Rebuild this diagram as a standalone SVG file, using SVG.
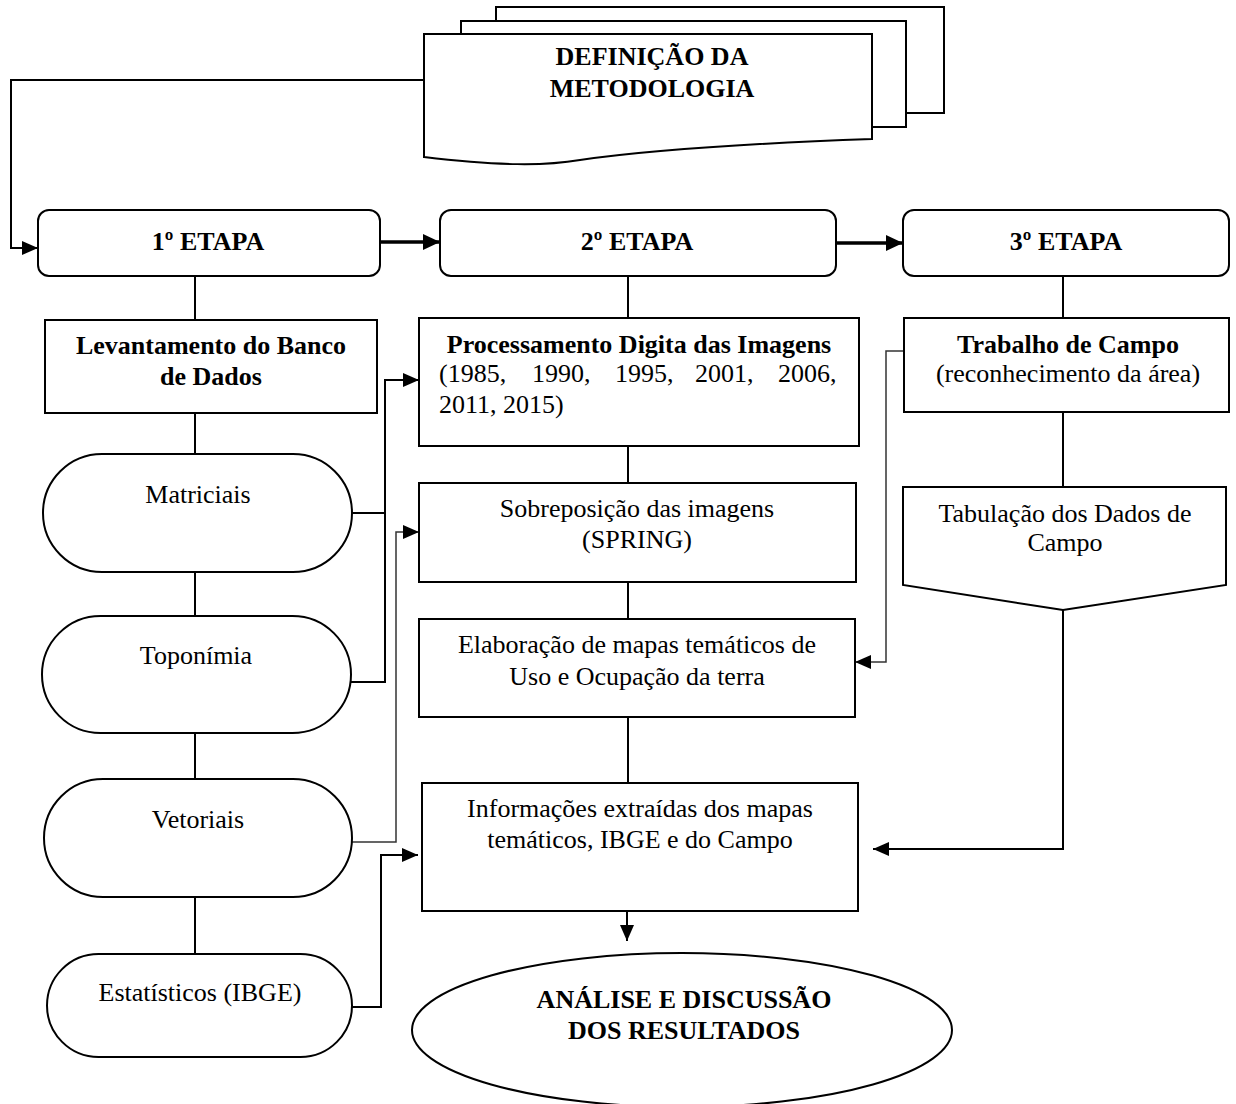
<svg xmlns="http://www.w3.org/2000/svg" width="1236" height="1104" viewBox="0 0 1236 1104">
<style>
  .box{fill:#fff;stroke:#000;stroke-width:2}
  .t{font-family:"Liberation Serif","Times New Roman",serif;font-size:26px;fill:#000}
  .b{font-weight:bold}
  .c{text-anchor:middle}
  .ln{fill:none;stroke:#000;stroke-width:2}
  .thin{fill:none;stroke:#333;stroke-width:1.5}
  .thick{fill:none;stroke:#000;stroke-width:3.5}
</style>
<defs>
  <marker id="ah" viewBox="0 0 16 14" refX="16" refY="7" markerWidth="16" markerHeight="14" orient="auto" markerUnits="userSpaceOnUse">
    <path d="M0,0 L16,7 L0,14 z" fill="#000"/>
  </marker>
  <marker id="ahb" viewBox="0 0 17 16" refX="17" refY="8" markerWidth="17" markerHeight="16" orient="auto" markerUnits="userSpaceOnUse">
    <path d="M0,0 L17,8 L0,16 z" fill="#000"/>
  </marker>
</defs>
<rect width="1236" height="1104" fill="#fff"/>

<g id="connectors">
  <path class="ln" d="M424,80 H11 V248 H38" marker-end="url(#ah)"/>
  <path class="thick" d="M380,242 H440" marker-end="url(#ahb)"/>
  <path class="thick" d="M836,243 H903" marker-end="url(#ahb)"/>
  <path class="ln" d="M195,276 V320"/>
  <path class="ln" d="M195,413 V454"/>
  <path class="ln" d="M195,572 V616"/>
  <path class="ln" d="M195,733 V779"/>
  <path class="ln" d="M195,897 V954"/>
  <path class="ln" d="M352,513 H385"/>
  <path class="ln" d="M351,682 H385 V380 H419" marker-end="url(#ah)"/>
  <path class="thin" d="M352,842 H396 V532 H419" marker-end="url(#ah)"/>
  <path class="ln" d="M352,1007 H381 V855 H418" marker-end="url(#ah)"/>
  <path class="ln" d="M628,276 V318"/>
  <path class="ln" d="M628,446 V483"/>
  <path class="ln" d="M628,582 V619"/>
  <path class="ln" d="M628,717 V783"/>
  <path class="ln" d="M627,911 V941" marker-end="url(#ah)"/>
  <path class="ln" d="M1063,276 V318"/>
  <path class="ln" d="M1063,412 V487"/>
  <path class="ln" d="M1063,610 V849 H873" marker-end="url(#ah)"/>
  <path class="thin" d="M904,351 H886 V662 H855" marker-end="url(#ah)"/>
</g>

<g id="definicao">
  <rect x="496" y="7" width="448" height="106" class="box"/>
  <rect x="461" y="21" width="445" height="106" class="box"/>
  <path class="box" d="M424,34 H872 V139 C 760,143 650,150 580,160 C 545,166 500,166 424,157 Z"/>
  <text class="t b c" x="652" y="65" font-size="27">DEFINIÇÃO DA</text>
  <text class="t b c" x="652" y="97" font-size="27">METODOLOGIA</text>
</g>

<g id="etapa1">
  <rect x="38" y="210" width="342" height="66" rx="11" class="box"/>
  <text class="t b c" x="208" y="250" font-size="27">1º ETAPA</text>
</g>
<g id="etapa2">
  <rect x="440" y="210" width="396" height="66" rx="11" class="box"/>
  <text class="t b c" x="637" y="250" font-size="27">2º ETAPA</text>
</g>
<g id="etapa3">
  <rect x="903" y="210" width="326" height="66" rx="11" class="box"/>
  <text class="t b c" x="1066" y="250" font-size="27">3º ETAPA</text>
</g>

<g id="levantamento">
  <rect x="45" y="320" width="332" height="93" class="box"/>
  <text class="t b c" x="211" y="354">Levantamento do Banco</text>
  <text class="t b c" x="211" y="385">de Dados</text>
</g>
<g id="matriciais">
  <rect x="43" y="454" width="309" height="118" rx="59" class="box"/>
  <text class="t c" x="198" y="503">Matriciais</text>
</g>
<g id="toponimia">
  <rect x="42" y="616" width="309" height="117" rx="58.5" class="box"/>
  <text class="t c" x="196" y="664">Toponímia</text>
</g>
<g id="vetoriais">
  <rect x="44" y="779" width="308" height="118" rx="59" class="box"/>
  <text class="t c" x="198" y="828">Vetoriais</text>
</g>
<g id="estatisticos">
  <rect x="47" y="954" width="305" height="103" rx="51.5" class="box"/>
  <text class="t c" x="200" y="1001">Estatísticos (IBGE)</text>
</g>

<g id="processamento">
  <rect x="419" y="318" width="440" height="128" class="box"/>
  <text class="t b c" x="639" y="353">Processamento Digita das Imagens</text>
  <text class="t" y="382"><tspan x="439">(1985,</tspan><tspan x="532">1990,</tspan><tspan x="615">1995,</tspan><tspan x="695">2001,</tspan><tspan x="778">2006,</tspan></text>
  <text class="t" x="439" y="413">2011, 2015)</text>
</g>
<g id="sobreposicao">
  <rect x="419" y="483" width="437" height="99" class="box"/>
  <text class="t c" x="637" y="517">Sobreposição das imagens</text>
  <text class="t c" x="637" y="548">(SPRING)</text>
</g>
<g id="elaboracao">
  <rect x="419" y="619" width="436" height="98" class="box"/>
  <text class="t c" x="637" y="653">Elaboração de mapas temáticos de</text>
  <text class="t c" x="637" y="685">Uso e Ocupação da terra</text>
</g>
<g id="informacoes">
  <rect x="422" y="783" width="436" height="128" class="box"/>
  <text class="t c" x="640" y="817">Informações extraídas dos mapas</text>
  <text class="t c" x="640" y="848">temáticos, IBGE e do Campo</text>
</g>
<g id="analise">
  <ellipse cx="682" cy="1030" rx="270" ry="77" class="box"/>
  <text class="t b c" x="684" y="1008">ANÁLISE E DISCUSSÃO</text>
  <text class="t b c" x="684" y="1039">DOS RESULTADOS</text>
</g>

<g id="trabalho">
  <rect x="904" y="318" width="325" height="94" class="box"/>
  <text class="t b c" x="1068" y="353">Trabalho de Campo</text>
  <text class="t c" x="1068" y="382">(reconhecimento da área)</text>
</g>
<g id="tabulacao">
  <path class="box" d="M903,487 H1226 V585 L1063,610 L903,585 Z"/>
  <text class="t c" x="1065" y="522">Tabulação dos Dados de</text>
  <text class="t c" x="1065" y="551">Campo</text>
</g>
</svg>
